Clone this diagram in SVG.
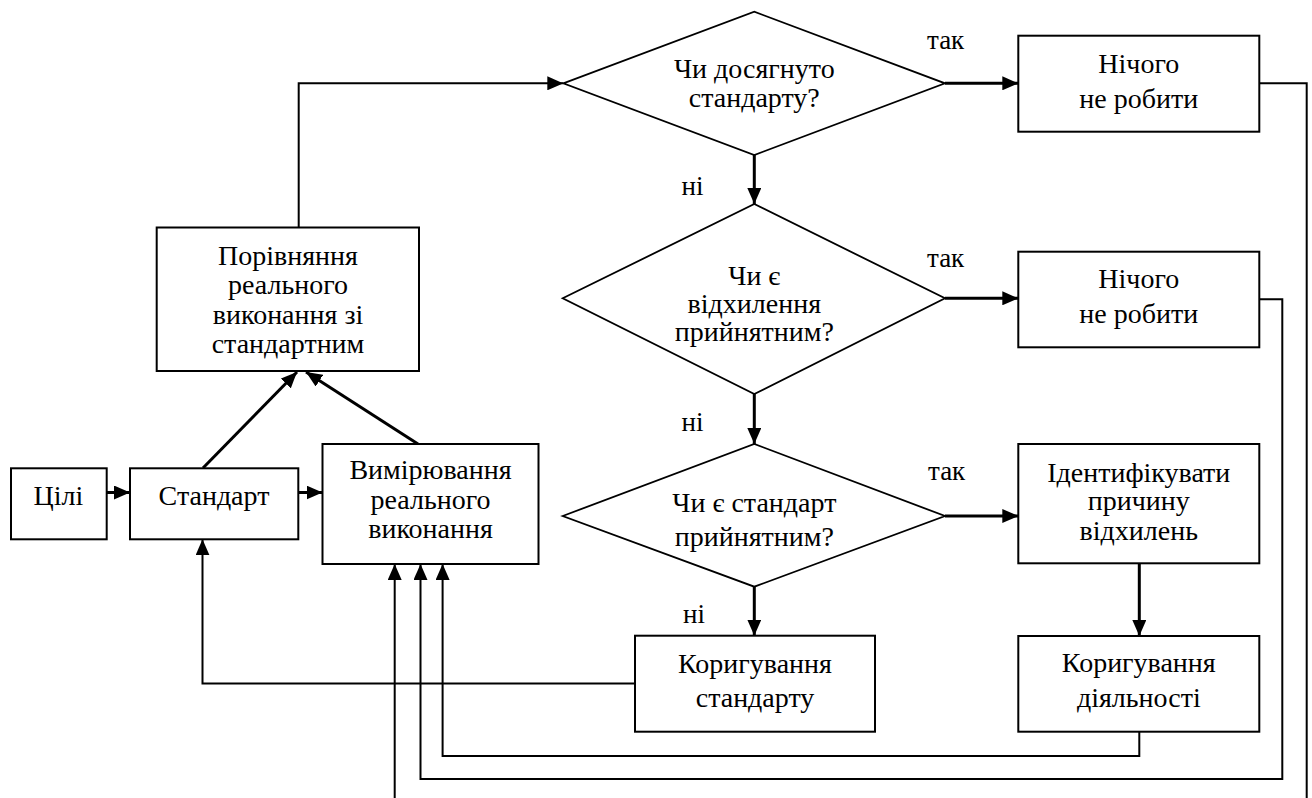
<svg xmlns="http://www.w3.org/2000/svg" width="1312" height="798" viewBox="0 0 1312 798">
<defs>
<marker id="ah" markerUnits="userSpaceOnUse" markerWidth="16" markerHeight="14" refX="16" refY="7" orient="auto">
<path d="M0,0 L16,7 L0,14 z" fill="#000"/>
</marker>
<style>
.box{fill:#fff;stroke:#000;stroke-width:2}
.dia{fill:#fff;stroke:#000;stroke-width:1.8}
.thick{fill:none;stroke:#000;stroke-width:3;marker-end:url(#ah)}
.thin{fill:none;stroke:#000;stroke-width:2;marker-end:url(#ah)}
text{font-family:"Liberation Serif",Tinos,"Times New Roman",Times,"Nimbus Roman","Noto Serif","DejaVu Serif",FreeSerif,serif;font-size:28px;fill:#000;text-anchor:middle}
text.lbl{font-size:27px;text-anchor:start}
</style>
</defs>
<rect width="1312" height="798" fill="#fff"/>

<g id="connectors">
<path class="thick" d="M106.7,492.5 H130"/>
<path class="thick" d="M298.3,492.5 H322.5"/>
<path class="thick" d="M203,468 L297,372"/>
<path class="thick" d="M418,444 L306,372"/>
<path class="thin" d="M298.7,227.5 V83.3 H563.3"/>
<path class="thick" d="M945,83.3 H1018.3"/>
<path class="thick" d="M754.3,155 V204"/>
<path class="thick" d="M945,298.3 H1018.3"/>
<path class="thick" d="M754.3,394 V444"/>
<path class="thick" d="M945,516 H1018.3"/>
<path class="thick" d="M754.3,586.7 V635.7"/>
<path class="thick" d="M1139.3,563.3 V636"/>
<path class="thin" d="M635,683.5 H202.5 V539.3"/>
<path class="thin" d="M1139.3,731.7 V756 H442.6 V564"/>
<path class="thin" d="M1259.3,299.3 H1282.3 V779 H420.5 V564"/>
<path class="thin" d="M1259.3,83.3 H1306.7 V812 H394.7 V564"/>
</g>

<g id="n-tsili">
<rect class="box" x="11" y="468.3" width="95.7" height="71"/>
<text x="58.5" y="505">Цілі</text>
</g>
<g id="n-standart">
<rect class="box" x="130" y="468.3" width="168.3" height="71"/>
<text x="214" y="505">Стандарт</text>
</g>
<g id="n-vymiryuvannya">
<rect class="box" x="322.5" y="444" width="216" height="120"/>
<text x="430.5" y="479.3">Вимірювання</text>
<text x="430.5" y="509">реального</text>
<text x="430.5" y="538.3">виконання</text>
</g>
<g id="n-porivnyannya">
<rect class="box" x="156.7" y="227.5" width="262.3" height="143.5"/>
<text x="288" y="265">Порівняння</text>
<text x="288" y="294">реального</text>
<text x="288" y="324">виконання зі</text>
<text x="288" y="353">стандартним</text>
</g>
<g id="d-dosyahnuto">
<polygon class="dia" points="563.3,83.3 754.3,11.7 945,83.3 754.3,155"/>
<text x="754.3" y="78.3">Чи досягнуто</text>
<text x="754.3" y="106.7">стандарту?</text>
</g>
<g id="d-vidkhylennya">
<polygon class="dia" points="562.7,298.3 754.3,204 945,298.3 754.3,394"/>
<text x="754.3" y="284.5">Чи є</text>
<text x="754.3" y="312.5">відхилення</text>
<text x="754.3" y="341">прийнятним?</text>
</g>
<g id="d-standart">
<polygon class="dia" points="562.7,516 754.3,444 945,516 754.3,586.7"/>
<text x="754.3" y="511.7">Чи є стандарт</text>
<text x="754.3" y="546">прийнятним?</text>
</g>
<g id="n-nichoho1">
<rect class="box" x="1018.3" y="35.7" width="241" height="96"/>
<text x="1138.8" y="73.3">Нічого</text>
<text x="1138.8" y="108.3">не робити</text>
</g>
<g id="n-nichoho2">
<rect class="box" x="1018.3" y="251.7" width="241" height="95.6"/>
<text x="1138.8" y="288.3">Нічого</text>
<text x="1138.8" y="323.3">не робити</text>
</g>
<g id="n-identyfikuvaty">
<rect class="box" x="1018.3" y="444" width="241" height="119.3"/>
<text x="1138.8" y="481.7">Ідентифікувати</text>
<text x="1138.8" y="510">причину</text>
<text x="1138.8" y="540">відхилень</text>
</g>
<g id="n-koryh-standartu">
<rect class="box" x="635" y="635.7" width="240" height="96"/>
<text x="755" y="673.3">Коригування</text>
<text x="755" y="706.7">стандарту</text>
</g>
<g id="n-koryh-diyalnosti">
<rect class="box" x="1018.3" y="636" width="241" height="95.7"/>
<text x="1138.8" y="671.7">Коригування</text>
<text x="1138.8" y="706.7">діяльності</text>
</g>
<g id="labels">
<text class="lbl" x="927" y="49">так</text>
<text class="lbl" x="927" y="267">так</text>
<text class="lbl" x="928" y="480">так</text>
<text class="lbl" x="681.5" y="195">ні</text>
<text class="lbl" x="681.5" y="431">ні</text>
<text class="lbl" x="683" y="622.7">ні</text>
</g>
</svg>
